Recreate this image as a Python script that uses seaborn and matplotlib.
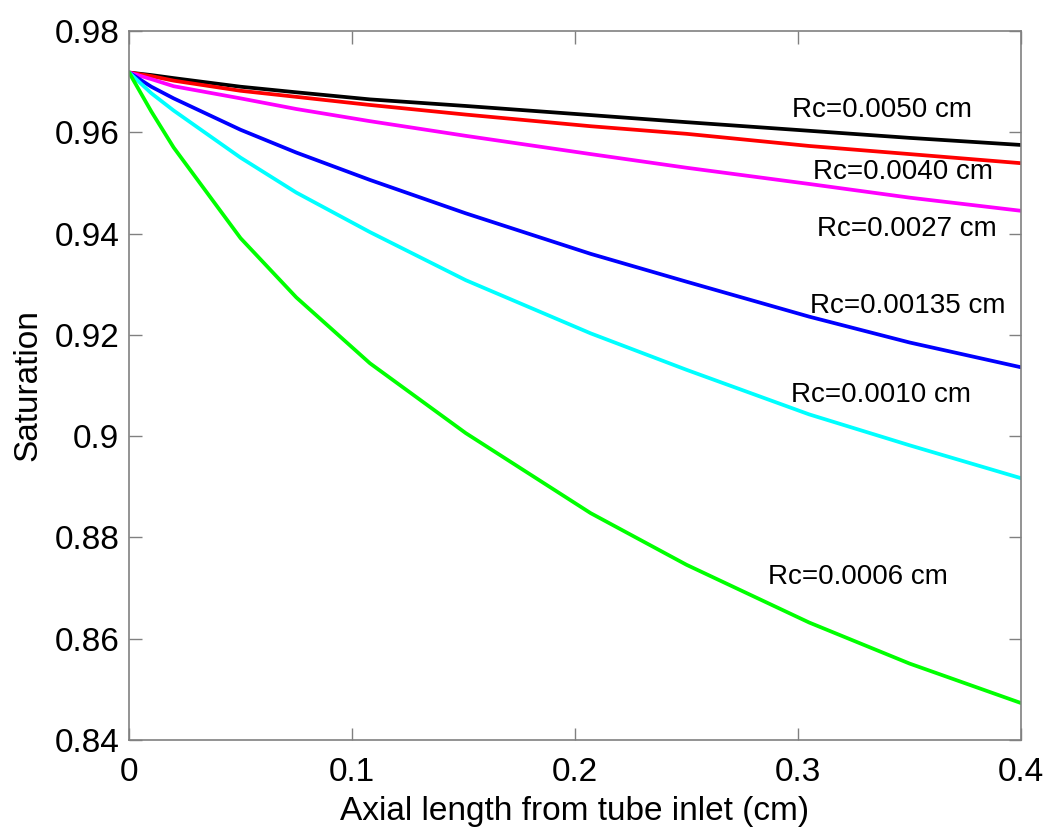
import pandas as pd
import numpy as np
import matplotlib
matplotlib.use('Agg')
import matplotlib.pyplot as plt
import seaborn as sns

axial_cm = [0, 0.01, 0.02, 0.05, 0.075, 0.108, 0.151, 0.207, 0.25, 0.305, 0.35, 0.4]

# Saturation for each capillary radius
sat_0050 = [0.9718, 0.9713, 0.9707, 0.9690, 0.9679, 0.9665, 0.9652, 0.9634, 0.9620, 0.9603, 0.9589, 0.9575]
sat_0040 = [0.9718, 0.9711, 0.9702, 0.9682, 0.9670, 0.9654, 0.9635, 0.9612, 0.9597, 0.9573, 0.9557, 0.9539]
sat_0027 = [0.9718, 0.9705, 0.9691, 0.9667, 0.9646, 0.9622, 0.9593, 0.9557, 0.9530, 0.9498, 0.9471, 0.9445]
sat_00135 = [0.9718, 0.9690, 0.9667, 0.9605, 0.9560, 0.9506, 0.9440, 0.9360, 0.9305, 0.9236, 0.9185, 0.9136]
sat_0010 = [0.9718, 0.9677, 0.9643, 0.9550, 0.9481, 0.9403, 0.9308, 0.9203, 0.9131, 0.9043, 0.8982, 0.8917]
sat_0006 = [0.9718, 0.9641, 0.9570, 0.9391, 0.9274, 0.9144, 0.9006, 0.8848, 0.8746, 0.8632, 0.8551, 0.8473]

series_names = ['Rc=0.0050 cm', 'Rc=0.0040 cm', 'Rc=0.0027 cm', 'Rc=0.00135 cm', 'Rc=0.0010 cm', 'Rc=0.0006 cm']
series_values = [sat_0050, sat_0040, sat_0027, sat_00135, sat_0010, sat_0006]
line_colors = ['#000000', '#ff0000', '#ff00ff', '#0000ff', '#00ffff', '#00ff00']

xticks = [0, 0.1, 0.2, 0.3, 0.4]
xtick_labels = ['0', '0.1', '0.2', '0.3', '0.4']
yticks = [0.84, 0.86, 0.88, 0.90, 0.92, 0.94, 0.96, 0.98]
ytick_labels = ['0.84', '0.86', '0.88', '0.9', '0.92', '0.94', '0.96', '0.98']

# where the curve labels sit (data coords, left/center anchored)
label_x = [0.2973, 0.3068, 0.3083, 0.3054, 0.2967, 0.2865]
label_y = [0.9645, 0.9522, 0.9410, 0.9257, 0.9081, 0.8722]

# long form table for seaborn
rows = []
for name, vals in zip(series_names, series_values):
    for x, s in zip(axial_cm, vals):
        rows.append({'x': x, 'sat': s, 'Rc': name})
df = pd.DataFrame(rows)

sns.set_style('ticks')
plt.rcParams['font.family'] = ['Liberation Sans', 'DejaVu Sans']
plt.rcParams['text.color'] = 'black'
plt.rcParams['axes.labelcolor'] = 'black'

fig = plt.figure(figsize=(10.5, 8.36), dpi=100)
ax = fig.add_axes([0.1229, 0.1148, 0.8495, 0.8481])

sns.lineplot(data=df, x='x', y='sat', hue='Rc', hue_order=series_names,
             palette=dict(zip(series_names, line_colors)), linewidth=2.7,
             legend=False, ax=ax, sort=False)
for ln in ax.get_lines():
    ln.set_solid_joinstyle('round')

for name, lx, ly in zip(series_names, label_x, label_y):
    ax.text(lx, ly, name, fontsize=20, ha='left', va='center', color='black')

ax.set_xlim(0, 0.4)
ax.set_ylim(0.84, 0.98)
ax.set_xticks(xticks)
ax.set_xticklabels(xtick_labels)
ax.set_yticks(yticks)
ax.set_yticklabels(ytick_labels)

ax.tick_params(direction='in', top=True, right=True, length=9, width=1,
               color='#808080', labelsize=24, labelcolor='black')
ax.tick_params(axis='x', pad=12)
ax.tick_params(axis='y', pad=7)
for sp in ax.spines.values():
    sp.set_visible(True)
    sp.set_color('#808080')
    sp.set_linewidth(1.2)

ax.set_xlabel('Axial length from tube inlet (cm)', fontsize=24, labelpad=6, color='black')
ax.set_ylabel('Saturation', fontsize=24, labelpad=8, color='black')

fig.savefig('out.png', dpi=100)
